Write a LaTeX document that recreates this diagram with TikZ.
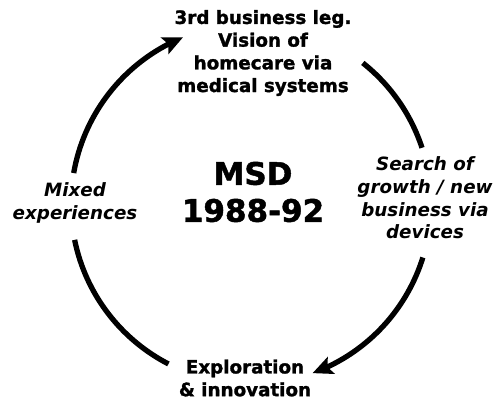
\documentclass[tikz,border=0pt]{standalone}
\usepackage{fontspec}
\setmainfont{DejaVu Sans}[BoldFeatures={FakeBold=1.5}]
\usetikzlibrary{arrows.meta,bending}

\begin{document}
\begin{tikzpicture}[x=1pt, y=1pt,
    every node/.style={font=\fontsize{18.3}{22.7}\selectfont\bfseries, align=center},
    stagetext/.style={font=\fontsize{18.3}{22.7}\selectfont\bfseries\itshape},
    cyclearc/.style={line width=5.3pt},
    cyclearrow/.style={line width=5.3pt, -{Stealth[length=20pt, width=18pt, inset=4pt, flex]}}]
    \useasboundingbox (0,0) rectangle (502,403);
    \coordinate (hub) at (251,199);
    % labels
    \node (vision) at (263,350) {3rd business leg.\\Vision of\\homecare via\\medical systems};
    \node[stagetext] (growth) at (425,205) {Search of\\growth / new\\business via\\devices};
    \node (explore) at (245,25) {Exploration\\\& innovation};
    \node[stagetext] (mixed) at (75,200) {Mixed\\experiences};
    \node[font=\fontsize{31}{37}\selectfont\bfseries] (msd) at (253,211) {MSD\\1988-92};
    % arc end points
    \path (hub) ++(51.6:180) coordinate (visionR);
    \path (hub) ++(-17.3:180) coordinate (growthB);
    \path (hub) ++(242.7:180) coordinate (exploreL);
    \path (hub) ++(170.1:180) coordinate (mixedT);
    % cycle
    \draw[cyclearc] (visionR) arc[start angle=51.6, end angle=18.2, radius=180];
    \draw[cyclearrow] (growthB) arc[start angle=-17.3, end angle=-70, radius=180];
    \draw[cyclearc] (exploreL) arc[start angle=242.7, end angle=191.5, radius=180];
    \draw[cyclearrow] (mixedT) arc[start angle=170.1, end angle=112.2, radius=180];
\end{tikzpicture}
\end{document}
